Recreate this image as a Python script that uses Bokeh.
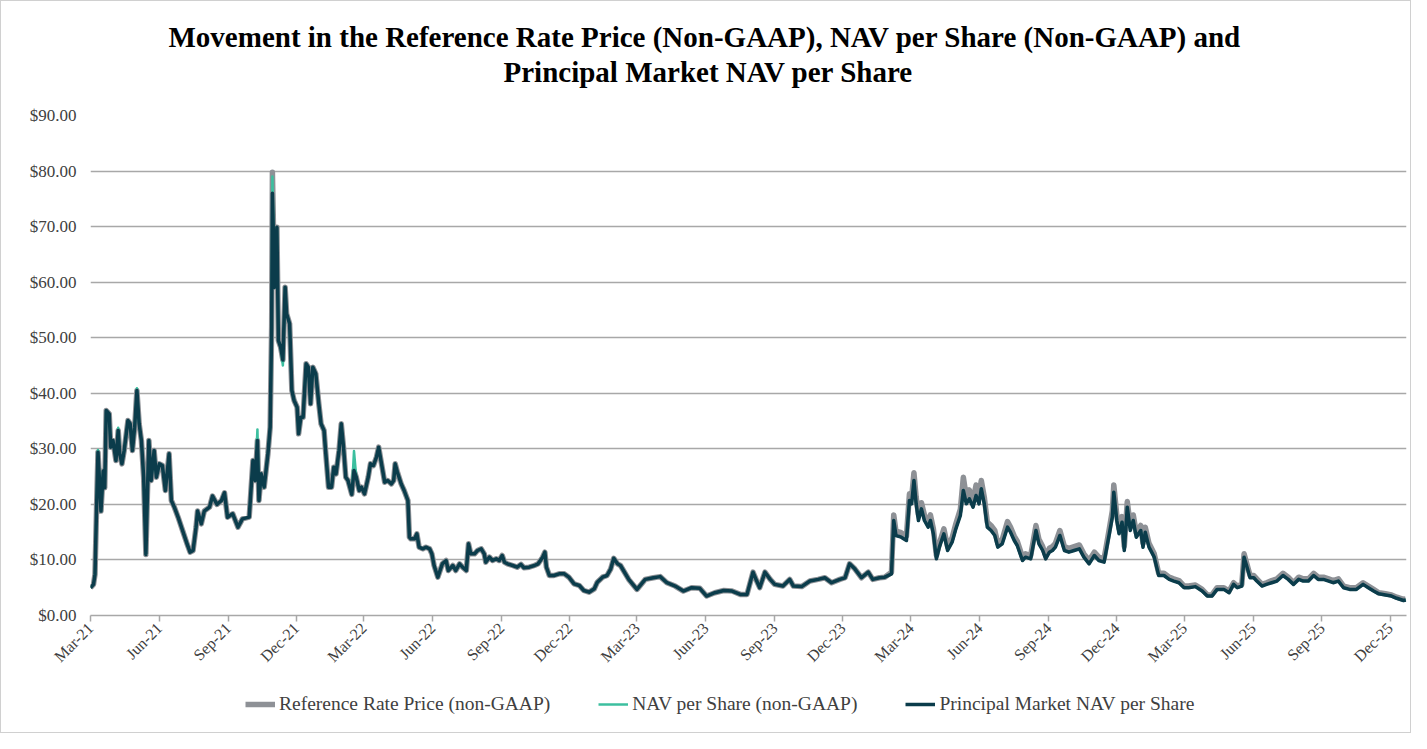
import math
from datetime import datetime
from bokeh.plotting import figure
from bokeh.layouts import column
from bokeh.models import (Range1d, FixedTicker, DatetimeTickFormatter, NumeralTickFormatter,
                          Legend, LegendItem, ColumnDataSource, Title)
from bokeh.embed import file_html
from bokeh.resources import INLINE

dates = [
    "2021-03-01", "2021-03-05", "2021-03-07", "2021-03-09", "2021-03-11", "2021-03-13", "2021-03-15", "2021-03-18", "2021-03-20", "2021-03-22",
    "2021-03-26", "2021-03-28", "2021-03-31", "2021-04-04", "2021-04-07", "2021-04-09", "2021-04-12", "2021-04-15", "2021-04-20", "2021-04-23",
    "2021-04-26", "2021-04-29", "2021-05-02", "2021-05-05", "2021-05-08", "2021-05-11", "2021-05-14", "2021-05-16", "2021-05-18", "2021-05-21",
    "2021-05-25", "2021-05-28", "2021-06-01", "2021-06-05", "2021-06-09", "2021-06-14", "2021-06-17", "2021-06-21", "2021-06-26", "2021-07-02",
    "2021-07-08", "2021-07-12", "2021-07-16", "2021-07-20", "2021-07-22", "2021-07-27", "2021-07-31", "2021-08-07", "2021-08-11", "2021-08-17",
    "2021-08-23", "2021-08-27", "2021-08-31", "2021-09-07", "2021-09-14", "2021-09-20", "2021-09-29", "2021-10-04", "2021-10-07", "2021-10-10",
    "2021-10-12", "2021-10-15", "2021-10-19", "2021-10-24", "2021-10-27", "2021-10-29", "2021-10-30", "2021-11-02", "2021-11-05", "2021-11-07",
    "2021-11-10", "2021-11-13", "2021-11-16", "2021-11-18", "2021-11-22", "2021-11-25", "2021-11-28", "2021-12-02", "2021-12-04", "2021-12-07",
    "2021-12-10", "2021-12-14", "2021-12-17", "2021-12-20", "2021-12-23", "2021-12-27", "2021-12-31", "2022-01-03", "2022-01-07", "2022-01-09",
    "2022-01-13", "2022-01-17", "2022-01-20", "2022-01-23", "2022-01-27", "2022-01-30", "2022-02-02", "2022-02-05", "2022-02-08", "2022-02-13",
    "2022-02-16", "2022-02-19", "2022-02-23", "2022-02-26", "2022-03-02", "2022-03-07", "2022-03-10", "2022-03-14", "2022-03-18", "2022-03-21",
    "2022-03-24", "2022-03-29", "2022-04-02", "2022-04-07", "2022-04-10", "2022-04-12", "2022-04-15", "2022-04-20", "2022-04-24", "2022-04-29",
    "2022-05-01", "2022-05-03", "2022-05-08", "2022-05-11", "2022-05-14", "2022-05-19", "2022-05-23", "2022-05-28", "2022-05-31", "2022-06-03",
    "2022-06-08", "2022-06-11", "2022-06-14", "2022-06-19", "2022-06-22", "2022-06-28", "2022-07-02", "2022-07-07", "2022-07-11", "2022-07-16",
    "2022-07-19", "2022-07-22", "2022-07-27", "2022-07-31", "2022-08-05", "2022-08-09", "2022-08-11", "2022-08-16", "2022-08-20", "2022-08-25",
    "2022-08-29", "2022-09-02", "2022-09-05", "2022-09-09", "2022-09-16", "2022-09-22", "2022-09-27", "2022-10-01", "2022-10-08", "2022-10-15",
    "2022-10-20", "2022-10-26", "2022-10-29", "2022-10-31", "2022-11-04", "2022-11-10", "2022-11-17", "2022-11-24", "2022-11-30", "2022-12-07",
    "2022-12-14", "2022-12-20", "2022-12-27", "2023-01-03", "2023-01-07", "2023-01-14", "2023-01-20", "2023-01-25", "2023-01-29", "2023-02-03",
    "2023-02-07", "2023-02-18", "2023-03-01", "2023-03-12", "2023-03-23", "2023-04-01", "2023-04-10", "2023-04-21", "2023-05-02", "2023-05-13",
    "2023-05-24", "2023-06-02", "2023-06-13", "2023-06-25", "2023-07-06", "2023-07-17", "2023-07-26", "2023-08-03", "2023-08-08", "2023-08-12",
    "2023-08-19", "2023-08-26", "2023-09-01", "2023-09-12", "2023-09-21", "2023-09-26", "2023-10-07", "2023-10-18", "2023-10-29", "2023-11-07",
    "2023-11-16", "2023-11-27", "2023-12-04", "2023-12-10", "2023-12-17", "2023-12-26", "2024-01-04", "2024-01-10", "2024-01-19", "2024-01-26",
    "2024-02-04", "2024-02-07", "2024-02-10", "2024-02-17", "2024-02-24", "2024-02-28", "2024-03-02", "2024-03-05", "2024-03-08", "2024-03-11",
    "2024-03-15", "2024-03-19", "2024-03-24", "2024-03-27", "2024-03-31", "2024-04-04", "2024-04-08", "2024-04-14", "2024-04-19", "2024-04-25",
    "2024-04-30", "2024-05-06", "2024-05-10", "2024-05-14", "2024-05-18", "2024-05-23", "2024-05-27", "2024-05-31", "2024-06-03", "2024-06-07",
    "2024-06-11", "2024-06-16", "2024-06-21", "2024-06-25", "2024-07-01", "2024-07-08", "2024-07-12", "2024-07-17", "2024-07-21", "2024-07-28",
    "2024-08-01", "2024-08-08", "2024-08-15", "2024-08-19", "2024-08-24", "2024-08-28", "2024-09-02", "2024-09-06", "2024-09-10", "2024-09-16",
    "2024-09-22", "2024-09-28", "2024-10-05", "2024-10-12", "2024-10-18", "2024-10-25", "2024-11-01", "2024-11-07", "2024-11-14", "2024-11-21",
    "2024-11-25", "2024-11-27", "2024-12-01", "2024-12-04", "2024-12-08", "2024-12-11", "2024-12-15", "2024-12-19", "2024-12-23", "2024-12-27",
    "2025-01-02", "2025-01-05", "2025-01-08", "2025-01-13", "2025-01-20", "2025-01-26", "2025-02-02", "2025-02-09", "2025-02-15", "2025-02-22",
    "2025-03-01", "2025-03-07", "2025-03-16", "2025-03-25", "2025-04-01", "2025-04-07", "2025-04-14", "2025-04-23", "2025-04-30", "2025-05-06",
    "2025-05-11", "2025-05-17", "2025-05-20", "2025-05-24", "2025-05-28", "2025-06-02", "2025-06-06", "2025-06-13", "2025-06-19", "2025-06-26",
    "2025-07-03", "2025-07-11", "2025-07-18", "2025-07-25", "2025-08-01", "2025-08-07", "2025-08-14", "2025-08-21", "2025-08-27", "2025-09-03",
    "2025-09-10", "2025-09-16", "2025-09-23", "2025-09-30", "2025-10-08", "2025-10-17", "2025-10-26", "2025-11-02", "2025-11-09", "2025-11-16",
    "2025-11-25", "2025-12-03", "2025-12-10", "2025-12-19", "2025-12-22",
]

principal_market_nav = [
    5.0, 5.6, 7.4, 18.8, 29.4, 24.3, 18.8, 26.0, 23.0, 36.9,
    36.3, 30.3, 31.5, 27.9, 33.3, 29.1, 27.3, 29.7, 35.1, 34.5,
    29.7, 33.9, 40.5, 34.5, 31.5, 24.9, 11.0, 21.8, 31.5, 24.3,
    29.7, 24.9, 27.3, 27.0, 22.5, 29.1, 20.7, 19.5, 17.7, 15.3,
    12.9, 11.4, 11.7, 15.9, 18.8, 16.5, 18.8, 19.5, 21.5, 20.0,
    20.7, 22.1, 17.7, 18.3, 15.9, 17.4, 17.7, 27.9, 24.3, 31.5,
    20.7, 25.5, 23.1, 29.1, 33.9, 52.0, 76.0, 59.1, 69.9, 49.5,
    48.3, 46.0, 59.1, 54.3, 52.5, 40.5, 38.7, 37.5, 32.7, 35.7,
    35.7, 45.3, 44.7, 38.1, 44.7, 43.5, 38.1, 34.5, 33.3, 29.7,
    23.1, 23.1, 26.7, 25.5, 29.7, 34.5, 30.3, 24.9, 24.3, 21.8,
    26.1, 24.9, 22.5, 23.1, 21.9, 24.9, 27.3, 27.0, 28.5, 30.3,
    27.9, 24.0, 24.3, 23.7, 24.3, 27.3, 25.8, 23.7, 22.5, 20.7,
    14.1, 13.8, 13.8, 14.7, 12.3, 12.0, 12.3, 12.0, 11.1, 9.0,
    6.9, 8.1, 9.3, 9.9, 8.1, 9.0, 8.1, 9.3, 8.7, 8.1,
    12.9, 11.1, 11.1, 11.7, 12.0, 11.1, 9.6, 10.5, 9.9, 10.2,
    9.9, 10.8, 9.6, 9.3, 9.0, 8.7, 9.2, 8.6, 8.7, 9.0,
    9.3, 10.5, 11.4, 8.7, 7.2, 7.2, 7.5, 7.5, 6.9, 5.7,
    5.4, 4.5, 4.2, 4.8, 6.0, 6.9, 7.2, 8.4, 10.3, 9.3,
    9.0, 6.5, 4.7, 6.5, 6.8, 7.0, 5.9, 5.3, 4.4, 5.0,
    4.9, 3.5, 4.1, 4.5, 4.4, 3.8, 3.8, 7.8, 6.2, 5.0,
    7.8, 6.5, 5.6, 5.3, 6.5, 5.3, 5.2, 6.2, 6.5, 6.8,
    5.9, 6.5, 6.8, 9.3, 8.4, 6.8, 7.8, 6.5, 6.8, 6.9,
    7.5, 17.1, 14.4, 14.1, 13.5, 20.7, 20.1, 24.3, 20.1, 17.1,
    19.2, 17.1, 15.9, 17.1, 14.7, 10.2, 12.3, 14.7, 11.7, 13.2,
    15.6, 18.0, 22.5, 20.1, 21.0, 19.5, 21.6, 20.1, 22.8, 20.1,
    15.9, 15.3, 14.4, 12.3, 12.9, 15.9, 15.0, 13.5, 12.6, 9.9,
    10.5, 10.2, 15.3, 12.9, 11.7, 10.2, 11.4, 11.7, 12.3, 14.4,
    11.7, 11.4, 11.7, 12.0, 10.5, 9.3, 10.8, 9.9, 9.6, 14.7,
    17.7, 22.2, 17.1, 14.7, 16.8, 11.7, 19.5, 15.3, 17.1, 14.1,
    15.3, 12.3, 15.0, 12.3, 10.5, 7.2, 7.2, 6.5, 6.2, 5.9,
    5.0, 5.0, 5.2, 4.4, 3.5, 3.5, 4.7, 4.7, 4.1, 5.6,
    5.0, 5.3, 10.5, 8.7, 6.8, 6.8, 6.2, 5.3, 5.6, 5.9,
    6.2, 7.2, 6.5, 5.6, 6.5, 6.2, 6.2, 7.2, 6.5, 6.5,
    6.2, 5.9, 6.2, 5.0, 4.7, 4.7, 5.6, 5.0, 4.4, 3.9,
    3.7, 3.5, 3.1, 2.7, 2.8,
]

nav_per_share = [
    5.0, 5.6, 7.4, 18.8, 29.8, 24.3, 18.8, 26.0, 23.0, 36.9,
    36.3, 30.3, 31.5, 27.9, 33.8, 29.1, 27.3, 29.7, 35.1, 34.5,
    29.7, 33.9, 40.9, 34.5, 31.5, 24.9, 11.0, 21.8, 31.5, 24.3,
    29.7, 24.9, 27.3, 27.0, 22.5, 29.1, 20.7, 19.5, 17.7, 15.3,
    12.9, 11.4, 11.7, 15.9, 18.8, 16.5, 18.8, 19.5, 21.5, 20.0,
    20.7, 22.1, 17.7, 18.3, 15.9, 17.4, 17.7, 27.9, 24.3, 33.5,
    20.7, 25.5, 23.1, 29.1, 33.9, 52.0, 79.0, 59.1, 69.9, 49.5,
    48.3, 45.0, 59.1, 54.3, 52.5, 40.5, 38.7, 37.5, 32.7, 35.7,
    35.7, 45.3, 44.7, 38.1, 44.7, 43.5, 38.1, 34.5, 33.3, 29.7,
    23.1, 23.1, 26.7, 25.5, 29.7, 34.5, 30.3, 24.9, 24.3, 21.8,
    29.6, 24.9, 22.5, 23.1, 21.9, 24.9, 27.3, 27.0, 28.5, 30.3,
    27.9, 24.0, 24.3, 23.7, 24.3, 27.3, 25.8, 23.7, 22.5, 20.7,
    14.1, 13.8, 13.8, 14.7, 12.3, 12.0, 12.3, 12.0, 11.1, 9.0,
    6.9, 8.1, 9.3, 9.9, 8.1, 9.0, 8.1, 9.3, 8.7, 8.1,
    12.9, 11.1, 11.1, 11.7, 12.0, 11.1, 9.6, 10.5, 9.9, 10.2,
    9.9, 10.8, 9.6, 9.3, 9.0, 8.7, 9.2, 8.6, 8.7, 9.0,
    9.3, 10.5, 11.4, 8.7, 7.2, 7.2, 7.5, 7.5, 6.9, 5.7,
    5.4, 4.5, 4.2, 4.8, 6.0, 6.9, 7.2, 8.4, 10.3, 9.3,
    9.0, 6.5, 4.7, 6.5, 6.8, 7.0, 5.9, 5.3, 4.4, 5.0,
    4.9, 3.5, 4.1, 4.5, 4.4, 3.8, 3.8, 7.8, 6.2, 5.0,
    7.8, 6.5, 5.6, 5.3, 6.5, 5.3, 5.2, 6.2, 6.5, 6.8,
    5.9, 6.5, 6.8, 9.3, 8.4, 6.8, 7.8, 6.5, 6.8, 6.9,
    7.5, 17.1, 14.4, 14.1, 13.5, 20.7, 20.1, 24.3, 20.1, 17.1,
    19.2, 17.1, 15.9, 17.1, 14.7, 10.2, 12.3, 14.7, 11.7, 13.2,
    15.6, 18.0, 22.5, 20.1, 21.0, 19.5, 21.6, 20.1, 22.8, 20.1,
    15.9, 15.3, 14.4, 12.3, 12.9, 15.9, 15.0, 13.5, 12.6, 9.9,
    10.5, 10.2, 15.3, 12.9, 11.7, 10.2, 11.4, 11.7, 12.3, 14.4,
    11.7, 11.4, 11.7, 12.0, 10.5, 9.3, 10.8, 9.9, 9.6, 14.7,
    17.7, 22.2, 17.1, 14.7, 16.8, 11.7, 19.5, 15.3, 17.1, 14.1,
    15.3, 12.3, 15.0, 12.3, 10.5, 7.2, 7.2, 6.5, 6.2, 5.9,
    5.0, 5.0, 5.2, 4.4, 3.5, 3.5, 4.7, 4.7, 4.1, 5.6,
    5.0, 5.3, 10.5, 8.7, 6.8, 6.8, 6.2, 5.3, 5.6, 5.9,
    6.2, 7.2, 6.5, 5.6, 6.5, 6.2, 6.2, 7.2, 6.5, 6.5,
    6.2, 5.9, 6.2, 5.0, 4.7, 4.7, 5.6, 5.0, 4.4, 3.9,
    3.7, 3.5, 3.1, 2.7, 2.8,
]

reference_rate_price = [
    5.0, 5.6, 7.4, 18.8, 29.4, 24.3, 18.8, 26.0, 23.0, 36.9,
    36.3, 30.3, 31.5, 27.9, 33.3, 29.1, 27.3, 29.7, 35.1, 34.5,
    29.7, 33.9, 40.5, 34.5, 31.5, 24.9, 11.0, 21.8, 31.5, 24.3,
    29.7, 24.9, 27.3, 27.0, 22.5, 29.1, 20.7, 19.5, 17.7, 15.3,
    12.9, 11.4, 11.7, 15.9, 18.8, 16.5, 18.8, 19.5, 21.5, 20.0,
    20.7, 22.1, 17.7, 18.3, 15.9, 17.4, 17.7, 27.9, 24.3, 31.5,
    20.7, 25.5, 23.1, 29.1, 33.9, 52.0, 79.8, 59.1, 69.9, 49.5,
    48.3, 46.0, 59.1, 54.3, 52.5, 40.5, 38.7, 37.5, 32.7, 35.7,
    35.7, 45.3, 44.7, 38.1, 44.7, 43.5, 38.1, 34.5, 33.3, 29.7,
    23.1, 23.1, 26.7, 25.5, 29.7, 34.5, 30.3, 24.9, 24.3, 21.8,
    26.1, 24.9, 22.5, 23.1, 21.9, 24.9, 27.3, 27.0, 28.5, 30.3,
    27.9, 24.0, 24.3, 23.7, 24.3, 27.3, 25.8, 23.7, 22.5, 20.7,
    14.1, 13.8, 13.8, 14.7, 12.3, 12.0, 12.3, 12.0, 11.1, 9.0,
    6.9, 8.1, 9.3, 9.9, 8.1, 9.0, 8.1, 9.3, 8.7, 8.1,
    12.9, 11.1, 11.1, 11.7, 12.0, 11.1, 9.6, 10.5, 9.9, 10.2,
    9.9, 10.8, 9.6, 9.3, 9.0, 8.7, 9.2, 8.6, 8.7, 9.0,
    9.3, 10.5, 11.4, 8.7, 7.2, 7.2, 7.5, 7.5, 6.9, 5.7,
    5.4, 4.5, 4.2, 4.8, 6.0, 6.9, 7.2, 8.4, 10.3, 9.3,
    9.0, 6.5, 4.7, 6.5, 6.8, 7.0, 5.9, 5.3, 4.4, 5.0,
    4.9, 3.5, 4.1, 4.5, 4.4, 3.8, 3.8, 7.8, 6.2, 5.0,
    7.8, 6.5, 5.6, 5.3, 6.5, 5.3, 5.2, 6.2, 6.5, 6.8,
    5.9, 6.5, 6.8, 9.3, 8.4, 6.8, 7.8, 6.5, 6.8, 6.9,
    7.8, 18.1, 15.2, 14.9, 14.3, 21.9, 21.3, 25.7, 21.3, 18.1,
    20.3, 18.1, 16.8, 18.1, 15.6, 10.8, 13.0, 15.6, 12.4, 14.0,
    16.5, 19.1, 24.9, 21.3, 22.6, 20.7, 23.5, 21.6, 24.3, 21.3,
    16.8, 16.2, 15.3, 13.0, 13.7, 16.9, 15.9, 14.3, 13.4, 10.5,
    11.1, 10.8, 16.2, 13.7, 12.4, 10.8, 12.1, 12.4, 13.0, 15.3,
    12.4, 12.1, 12.4, 12.7, 11.1, 9.9, 11.4, 10.5, 10.2, 15.6,
    18.8, 23.5, 18.1, 15.6, 17.8, 12.4, 20.5, 16.2, 18.1, 14.9,
    16.2, 13.0, 15.9, 13.0, 11.1, 7.6, 7.6, 6.9, 6.6, 6.3,
    5.3, 5.3, 5.5, 4.7, 3.7, 3.7, 5.0, 5.0, 4.4, 5.9,
    5.3, 5.6, 11.1, 9.2, 7.2, 7.2, 6.6, 5.6, 5.9, 6.3,
    6.6, 7.6, 6.9, 5.9, 6.9, 6.6, 6.6, 7.6, 6.9, 6.9,
    6.6, 6.3, 6.6, 5.3, 5.0, 5.0, 5.9, 5.3, 4.7, 4.1,
    3.9, 3.7, 3.3, 2.9, 3.0,
]

tick_dates = ["2021-03-01", "2021-06-01", "2021-09-01", "2021-12-01", "2022-03-01", "2022-06-01",
              "2022-09-01", "2022-12-01", "2023-03-01", "2023-06-01", "2023-09-01", "2023-12-01",
              "2024-03-01", "2024-06-01", "2024-09-01", "2024-12-01", "2025-03-01", "2025-06-01",
              "2025-09-01", "2025-12-01"]
y_ticks = [0, 10, 20, 30, 40, 50, 60, 70, 80, 90]

title_lines = ["Movement in the Reference Rate Price (Non-GAAP), NAV per Share (Non-GAAP) and",
               "Principal Market NAV per Share"]
series_labels = ["Reference Rate Price (non-GAAP)", "NAV per Share (non-GAAP)",
                 "Principal Market NAV per Share"]
series_columns = ["ref", "nav", "pm"]
series_colors = ["#8e9196", "#3cbf9f", "#0b3c4b"]
series_widths = [5.5, 2.5, 3.5]

assert len(dates) == len(principal_market_nav) == len(nav_per_share) == len(reference_rate_price)

EPOCH = datetime(1970, 1, 1)


def to_dt(s):
    return datetime.strptime(s, "%Y-%m-%d")


def to_ms(s):
    return (to_dt(s) - EPOCH).total_seconds() * 1000.0


src = ColumnDataSource(dict(
    x=[to_dt(d) for d in dates],
    ref=reference_rate_price,
    nav=nav_per_share,
    pm=principal_market_nav,
))

FONT = "Liberation Serif"
x_rng = Range1d(to_dt("2021-03-01"), to_dt("2025-12-23"))

p = figure(frame_width=1316, frame_height=500, x_axis_type="datetime",
           output_backend="svg", toolbar_location=None,
           x_range=x_rng, y_range=Range1d(0, 90),
           min_border_left=89, min_border_right=4, min_border_top=114, min_border_bottom=60)


def style_title(t):
    t.align = "left"
    t.text_font = FONT
    t.text_font_size = "29px"
    t.text_font_style = "bold"
    t.text_color = "#000000"


p.title.text = title_lines[0]
style_title(p.title)
p.title.offset = 78
p.title.standoff = -52
t2 = Title(text=title_lines[1])
style_title(t2)
t2.offset = 413
t2.standoff = 55
p.add_layout(t2, "above")

p.outline_line_color = None
p.background_fill_color = "white"
p.border_fill_color = "white"

p.xgrid.visible = False
p.ygrid.grid_line_color = "#a8a8a8"
p.ygrid.grid_line_width = 1.5

p.yaxis.ticker = FixedTicker(ticks=y_ticks)
p.yaxis.formatter = NumeralTickFormatter(format="$0.00")
p.yaxis.axis_line_color = None
p.yaxis.major_tick_line_color = None
p.yaxis.major_tick_out = 0
p.yaxis.major_tick_in = 0
p.yaxis.minor_tick_line_color = None
p.yaxis.major_label_text_font = FONT
p.yaxis.major_label_text_font_size = "17px"
p.yaxis.major_label_text_color = "#404040"
p.yaxis.major_label_standoff = 14

p.xaxis.ticker = FixedTicker(ticks=[to_ms(t) for t in tick_dates])
fmt = "%b-%y"
p.xaxis.formatter = DatetimeTickFormatter(microseconds=fmt, milliseconds=fmt, seconds=fmt, minsec=fmt,
                                          minutes=fmt, hourmin=fmt, hours=fmt, days=fmt,
                                          months=fmt, years=fmt)
p.xaxis.axis_line_color = "#a8a8a8"
p.xaxis.axis_line_width = 1.5
p.xaxis.major_tick_line_color = "#a8a8a8"
p.xaxis.major_tick_line_width = 1.5
p.xaxis.major_tick_in = 0
p.xaxis.major_tick_out = 6
p.xaxis.minor_tick_line_color = None
p.xaxis.major_label_orientation = math.pi / 4
p.xaxis.major_label_text_font = FONT
p.xaxis.major_label_text_font_size = "16px"
p.xaxis.major_label_text_color = "#404040"
p.xaxis.major_label_standoff = 4

for col, c, w in zip(series_columns, series_colors, series_widths):
    p.line("x", col, source=src, line_color=c, line_width=w, line_join="round")

# legend strip under the chart: its own small canvas (same series, drawn out of view)
lf = figure(width=1409, height=57, output_backend="svg", toolbar_location=None,
            x_axis_type="datetime", x_range=x_rng, y_range=Range1d(-20, -10),
            x_axis_location=None, y_axis_location=None, min_border=0)
lf.grid.visible = False
lf.outline_line_color = None
items = []
for lab, col, c, w in zip(series_labels, series_columns, series_colors, series_widths):
    r = lf.line("x", col, source=src, line_color=c, line_width=w)
    items.append(LegendItem(label=lab, renderers=[r]))
legend = Legend(items=items, orientation="horizontal", location=(155, 17))
legend.label_text_font = FONT
legend.label_text_font_size = "19.5px"
legend.label_text_color = "#404040"
legend.border_line_color = None
legend.background_fill_alpha = 0
legend.glyph_width = 30
legend.label_standoff = 4
legend.spacing = 48
legend.margin = 0
legend.padding = 4
lf.add_layout(legend, "center")

layout = column(p, lf, spacing=0, styles={"border": "1px solid #d0d0d0"})

open("out.html", "w").write(file_html(layout, INLINE))
